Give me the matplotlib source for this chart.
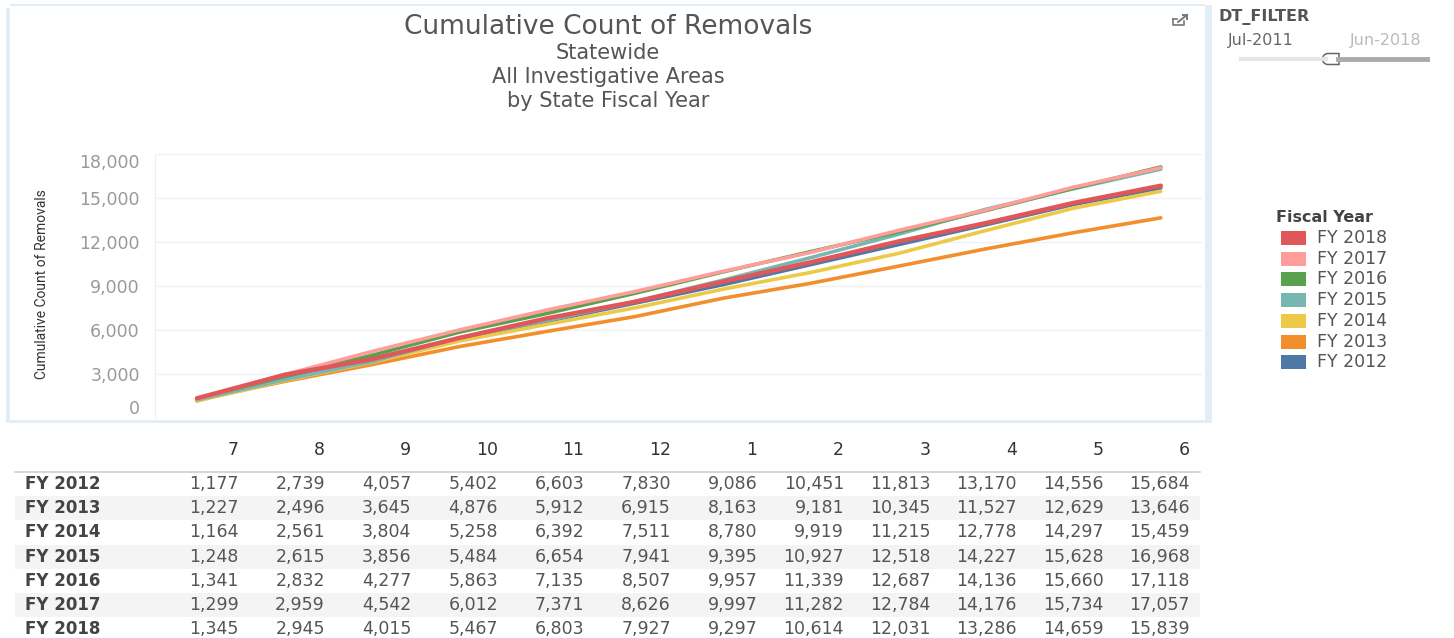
import numpy as np
import matplotlib.pyplot as plt
from matplotlib.patches import Rectangle, Polygon
from matplotlib.lines import Line2D
from matplotlib.ticker import FuncFormatter

plt.rcParams['font.family'] = ['DejaVu Sans']

months = ['7', '8', '9', '10', '11', '12', '1', '2', '3', '4', '5', '6']
years = ['FY 2012', 'FY 2013', 'FY 2014', 'FY 2015', 'FY 2016', 'FY 2017', 'FY 2018']

fy2012 = [1177, 2739, 4057, 5402, 6603, 7830, 9086, 10451, 11813, 13170, 14556, 15684]
fy2013 = [1227, 2496, 3645, 4876, 5912, 6915, 8163, 9181, 10345, 11527, 12629, 13646]
fy2014 = [1164, 2561, 3804, 5258, 6392, 7511, 8780, 9919, 11215, 12778, 14297, 15459]
fy2015 = [1248, 2615, 3856, 5484, 6654, 7941, 9395, 10927, 12518, 14227, 15628, 16968]
fy2016 = [1341, 2832, 4277, 5863, 7135, 8507, 9957, 11339, 12687, 14136, 15660, 17118]
fy2017 = [1299, 2959, 4542, 6012, 7371, 8626, 9997, 11282, 12784, 14176, 15734, 17057]
fy2018 = [1345, 2945, 4015, 5467, 6803, 7927, 9297, 10614, 12031, 13286, 14659, 15839]
series = [fy2012, fy2013, fy2014, fy2015, fy2016, fy2017, fy2018]

colors = ['#4e79a7', '#f28e2b', '#edc948', '#76b7b2', '#59a14f', '#ff9d9a', '#e15759']
yticks = [0, 3000, 6000, 9000, 12000, 15000, 18000]

W, H = 1454, 638
fig = plt.figure(figsize=(W / 100, H / 100), dpi=100)


def fx(x):
    return x / W


def fy(y):
    return 1 - y / H


# chart frame
frame_c = '#e1eef7'
fig.patches.append(Rectangle((fx(6), fy(423)), fx(4), (420 - 5) / H, transform=fig.transFigure,
                             color=frame_c, lw=0))
fig.patches.append(Rectangle((fx(1205), fy(423)), fx(7), (423 - 5) / H, transform=fig.transFigure,
                             color=frame_c, lw=0))
fig.patches.append(Rectangle((fx(6), fy(423)), fx(1206), 3 / H, transform=fig.transFigure,
                             color=frame_c, lw=0))
fig.patches.append(Rectangle((fx(10), fy(6)), fx(1195), 1.5 / H, transform=fig.transFigure,
                             color=frame_c, lw=0))

# titles
fig.text(fx(608), fy(27), 'Cumulative Count of Removals', ha='center', va='center',
         fontsize=19, color='#555555')
for txt, y in [('Statewide', 53), ('All Investigative Areas', 77), ('by State Fiscal Year', 101)]:
    fig.text(fx(608), fy(y), txt, ha='center', va='center', fontsize=15, color='#555555')

# line chart
ax = fig.add_axes([fx(155), fy(418), fx(1202 - 155), 264 / H])
x = np.arange(len(months))
for vals, c, name in zip(series, colors, years):
    lw = 3.2 if name == 'FY 2018' else 2.6
    ax.plot(x, vals, color=c, lw=lw, solid_capstyle='round', label=name)
ax.set_xlim(-0.48, 11.47)
ax.set_ylim(0, 18000)
ax.set_yticks(yticks)
ax.yaxis.set_major_formatter(FuncFormatter(lambda v, p: f'{int(v):,}'))
ax.set_xticks([])
ax.grid(axis='y', color='#f0f0f0', lw=1)
ax.set_axisbelow(True)
for s in ['top', 'right', 'bottom']:
    ax.spines[s].set_visible(False)
ax.spines['left'].set_color('#eeeeee')
ax.tick_params(axis='y', length=0, pad=11, labelsize=12.5, labelcolor='#999999')
labels = ax.get_yticklabels()
labels[0].set_va('bottom')
labels[-1].set_va('top')
fig.text(fx(42), fy(284), 'Cumulative Count of Removals', rotation=90, ha='center', va='center',
         fontsize=10, color='#333333', family=['Roboto', 'DejaVu Sans'])

# pop-out icon
ic = '#777777'
fig.add_artist(Line2D([fx(1173), fx(1173), fx(1184), fx(1184)], [fy(19), fy(25), fy(25), fy(21)],
                      transform=fig.transFigure, color=ic, lw=1.2))
fig.add_artist(Line2D([fx(1173), fx(1177)], [fy(19), fy(19)], transform=fig.transFigure, color=ic, lw=1.2))
fig.add_artist(Line2D([fx(1178), fx(1187)], [fy(22), fy(15)], transform=fig.transFigure, color=ic, lw=1.4))
fig.add_artist(Line2D([fx(1183), fx(1187), fx(1187)], [fy(15), fy(15), fy(19)],
                      transform=fig.transFigure, color=ic, lw=1.4))

# date filter
fig.text(fx(1218), fy(17), 'DT_FILTER', ha='left', va='center', fontsize=11.5,
         fontweight='bold', color='#555555')
fig.text(fx(1228), fy(40), 'Jul-2011', ha='left', va='center', fontsize=11.5, color='#666666')
fig.text(fx(1350), fy(40), 'Jun-2018', ha='left', va='center', fontsize=11.5, color='#bbbbbb')
fig.add_artist(Line2D([fx(1241), fx(1326)], [fy(59), fy(59)], transform=fig.transFigure,
                      color='#e6e6e6', lw=3))
fig.add_artist(Line2D([fx(1338), fx(1427)], [fy(59), fy(59)], transform=fig.transFigure,
                      color='#aaaaaa', lw=3.5))
# slider handle: round on the left, flat on the right
hax = fig.add_axes([fx(1318), fy(68), fx(24), 18 / H])
hax.set_xlim(0, 24)
hax.set_ylim(0, 18)
hax.axis('off')
ang = np.linspace(np.pi / 2, 3 * np.pi / 2, 20)
knob = np.column_stack([10 + 5.5 * np.cos(ang), 9 + 5.5 * np.sin(ang)])
knob = np.vstack([knob, [[21, 3.5], [21, 14.5]]])
hax.add_patch(Polygon(knob, closed=True, facecolor='white', edgecolor='#666666', lw=1.1))

# legend
fig.text(fx(1276), fy(218), 'Fiscal Year', ha='left', va='center', fontsize=11.5,
         fontweight='bold', color='#444444')
for i, (name, c) in enumerate(zip(years[::-1], colors[::-1])):
    yy = 238 + i * 20.7
    fig.patches.append(Rectangle((fx(1281), fy(yy + 7)), fx(25), 14 / H, transform=fig.transFigure,
                                 facecolor=c, edgecolor='none'))
    fig.text(fx(1317), fy(yy), name, ha='left', va='center', fontsize=12.5, color='#555555')

# data table
col_right = [238.5 + i * 86.5 for i in range(len(months))]
for m, cx in zip(months, col_right):
    fig.text(fx(cx), fy(450), m, ha='right', va='center', fontsize=12.5, color='#333333')
fig.add_artist(Line2D([fx(15), fx(1200)], [fy(472), fy(472)], transform=fig.transFigure,
                      color='#d0d0d0', lw=1.2))
row_h = 24.2
for r, (name, vals) in enumerate(zip(years, series)):
    yy = 484 + r * row_h
    if r % 2 == 1:
        fig.patches.append(Rectangle((fx(15), fy(yy + row_h / 2)), fx(1185), row_h / H,
                                     transform=fig.transFigure, facecolor='#f4f4f4', edgecolor='none'))
    fig.text(fx(25), fy(yy), name, ha='left', va='center', fontsize=12, fontweight='bold',
             color='#444444')
    for v, cx in zip(vals, col_right):
        fig.text(fx(cx), fy(yy), f'{v:,}', ha='right', va='center', fontsize=12.5, color='#555555')

fig.savefig('out.png', dpi=100)
